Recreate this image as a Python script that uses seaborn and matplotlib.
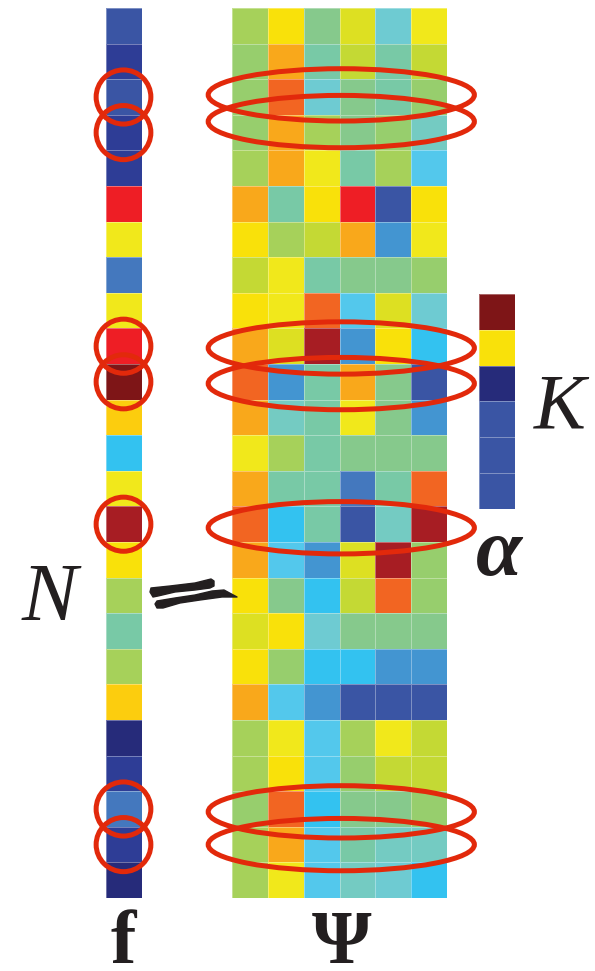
import matplotlib
matplotlib.use("Agg")
import matplotlib.pyplot as plt
from matplotlib.colors import ListedColormap
from matplotlib.patches import Ellipse, Polygon
import numpy as np
import seaborn as sns

# colour levels, low (dark blue) to high (dark red)
LEVEL_COLOURS = [
    '#262B7A', '#2E3D96', '#3A55A4', '#4478BE', '#4395D1', '#33C2F0',
    '#53C8EC', '#6ECBD2', '#74CBC2', '#78C9A6', '#86C98C', '#97CE6D',
    '#A6D15A', '#C4D934', '#DDE022', '#F1E81B', '#F9E10A', '#FCCD0E',
    '#F9A81B', '#F26522', '#EE1E25', '#A71D23', '#7E1517',
]

f_values = [2, 1, 2, 1, 1, 20, 15, 3, 15, 20, 22, 17, 5, 15, 21, 16,
            12, 9, 12, 17, 0, 1, 3, 1, 0]

psi_values = [
    [12, 16, 10, 14, 7, 15],
    [11, 18, 9, 13, 9, 13],
    [11, 19, 7, 10, 9, 11],
    [11, 18, 12, 10, 11, 8],
    [12, 18, 15, 9, 12, 6],
    [18, 9, 16, 20, 2, 16],
    [16, 12, 13, 18, 4, 15],
    [13, 15, 9, 10, 10, 11],
    [16, 15, 19, 6, 14, 7],
    [18, 14, 21, 4, 16, 5],
    [19, 4, 9, 18, 10, 2],
    [18, 8, 9, 15, 10, 4],
    [15, 12, 9, 10, 10, 10],
    [18, 9, 9, 3, 9, 19],
    [19, 5, 9, 2, 8, 21],
    [18, 6, 4, 14, 21, 11],
    [16, 10, 5, 13, 19, 11],
    [14, 16, 7, 10, 10, 10],
    [16, 11, 5, 5, 4, 4],
    [18, 6, 4, 2, 2, 2],
    [12, 15, 6, 12, 15, 13],
    [12, 16, 6, 11, 13, 13],
    [11, 19, 5, 10, 10, 11],
    [12, 18, 6, 9, 8, 8],
    [12, 15, 6, 8, 7, 5],
]

alpha_values = [22, 16, 0, 2, 2, 2]

highlight_rows = [2, 3, 9, 10, 14, 22, 23]
ellipse_shift = [-0.06, -0.31, 0.05, 0.05, 0.1, 0.08, 0.0]

W, H = 595, 971
RED = '#E2290B'
INK = '#231F20'
RING_LW = 3.6

cmap = ListedColormap(LEVEL_COLOURS)
vmin, vmax = -0.5, len(LEVEL_COLOURS) - 0.5

fig = plt.figure(figsize=(W / 100, H / 100), dpi=100)


def px_axes(left, top, right, bottom):
    return fig.add_axes([left / W, 1 - bottom / H, (right - left) / W, (bottom - top) / H])


def draw_heat(ax, values):
    sns.heatmap(np.array(values), ax=ax, cmap=cmap, vmin=vmin, vmax=vmax, cbar=False,
                xticklabels=False, yticklabels=False,
                linewidths=0.5, linecolor=(1, 1, 1, 0.35))
    ax.set_xlabel('')
    ax.set_ylabel('')


ax_f = px_axes(105.5, 8, 141.5, 898)
draw_heat(ax_f, np.array(f_values).reshape(-1, 1))

ax_psi = px_axes(232.3, 8, 446.7, 898)
draw_heat(ax_psi, psi_values)

ax_k = px_axes(479.3, 294, 515, 508.7)
draw_heat(ax_k, np.array(alpha_values).reshape(-1, 1))

for row, dy in zip(highlight_rows, ellipse_shift):
    ax_f.add_patch(Ellipse((0.5, row + 0.5), 1.52, 1.52, fill=False,
                           edgecolor=RED, lw=RING_LW, clip_on=False, zorder=5))
    ax_psi.add_patch(Ellipse((3.05, row + 0.5 + dy), 7.45, 1.47, fill=False,
                             edgecolor=RED, lw=RING_LW, clip_on=False, zorder=5))

# overlay in pixel space for the brush "approximately equal" sign
ov = fig.add_axes([0, 0, 1, 1])
ov.set_xlim(0, W)
ov.set_ylim(H, 0)
ov.axis('off')
top_stroke = [(151, 588), (170, 586), (195, 583), (211, 579), (214, 581),
              (214, 586), (210, 588), (195, 590), (175, 592), (158, 596),
              (153, 597), (150, 592)]
bottom_stroke = [(157, 601), (175, 598), (195, 595), (212, 591), (224, 590),
                 (237, 597), (222, 597), (200, 600), (180, 603), (163, 608),
                 (157, 608), (155, 604)]
for pts in (top_stroke, bottom_stroke):
    ov.add_patch(Polygon(pts, closed=True, facecolor=INK, edgecolor=INK,
                         lw=1.0, joinstyle='round'))


def label(x, y, s, size, **kw):
    fig.text(x / W, 1 - y / H, s, fontsize=size, ha='center', va='baseline',
             family='Liberation Serif', color=INK, **kw)


label(49, 620, 'N', 60, style='italic')
label(560, 428, 'K', 56, style='italic')
label(499, 575, 'α', 60, style='italic', weight='bold')
label(123, 963, 'f', 55, weight='bold')
label(342, 963, 'Ψ', 55, weight='bold')

fig.savefig('out.png', dpi=100)
plt.close(fig)
